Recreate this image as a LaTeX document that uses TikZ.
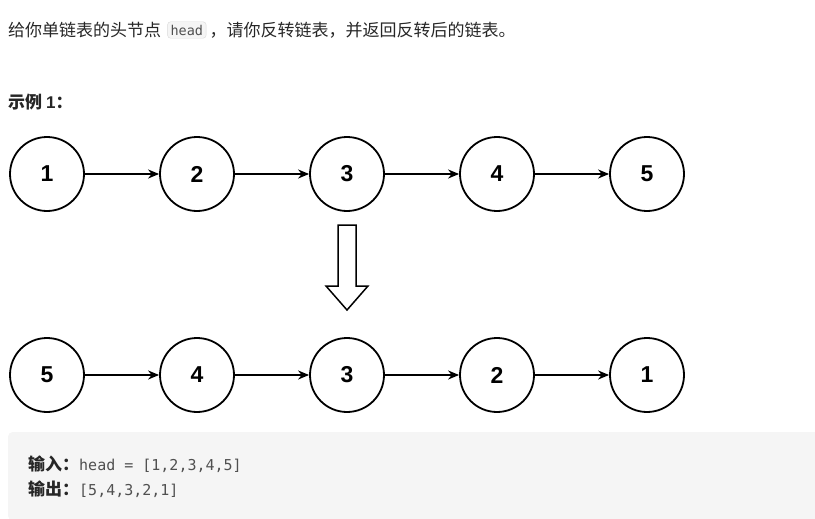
\documentclass[tikz,border=0pt]{standalone}
\usepackage{fontspec}
\setmainfont{Liberation Sans}
\newfontfamily\cjk{Noto Sans CJK SC}
\newfontfamily\codef{DejaVu Sans Mono}
\usetikzlibrary{arrows.meta}
\definecolor{txt}{HTML}{262626}
\definecolor{codetxt}{HTML}{505050}
\definecolor{codebg}{HTML}{F5F5F5}
\tikzset{
  lnode/.style={circle,draw=black,line width=1.8pt,minimum size=74pt,inner sep=0pt,font=\fontsize{23}{23}\selectfont\bfseries},
  link/.style={-{Stealth[length=11pt,width=9pt]},line width=1.6pt},
  para/.style={anchor=west,inner sep=0pt,text=txt,font=\fontsize{17}{19}\selectfont}
}
\begin{document}
\begin{tikzpicture}[x=1pt,y=-1pt]
\useasboundingbox (0,0) rectangle (815,519);
\node[para] (t1) at (8,30) {\cjk 给你单链表的头节点};
\node[anchor=west,draw=gray!30,fill=codebg,rounded corners=3pt,inner sep=3pt,font=\codef\fontsize{13.5}{15}\selectfont,text=codetxt] (hd) at ([xshift=6pt]t1.east) {head};
\node[para] (t2) at ([xshift=3pt]hd.east) {\cjk ，请你反转链表，并返回反转后的链表。};
\node[para,font=\fontsize{17}{19}\selectfont\bfseries] (ex) at (8,102) {\cjk 示例 \fontspec{Liberation Sans}\bfseries 1\cjk ：};
\foreach \n [count=\i] in {1,2,3,4,5} \node[lnode] (a\i) at ({47+150*(\i-1)},174) {\n};
\foreach \n [count=\i] in {5,4,3,2,1} \node[lnode] (b\i) at ({47+150*(\i-1)},375) {\n};
\foreach \i/\j in {1/2,2/3,3/4,4/5} {\draw[link] (a\i) -- (a\j); \draw[link] (b\i) -- (b\j);}
\draw[line width=1.5pt,line join=miter] (338,225) -- (356,225) -- (356,286) -- (368,286) -- (347,310) -- (326,286) -- (338,286) -- cycle;
\node[fill=codebg,rounded corners=4pt,minimum width=815pt,minimum height=88pt,anchor=north west,inner sep=0pt] (box) at (8,432) {};
\node[para] (in) at (28,464) {{\cjk\bfseries 输入：}{\codef\fontsize{15}{17}\selectfont\color{codetxt}head = [1,2,3,4,5]}};
\node[para] (out) at (28,489) {{\cjk\bfseries 输出：}{\codef\fontsize{15}{17}\selectfont\color{codetxt}[5,4,3,2,1]}};
\end{tikzpicture}
\end{document}
